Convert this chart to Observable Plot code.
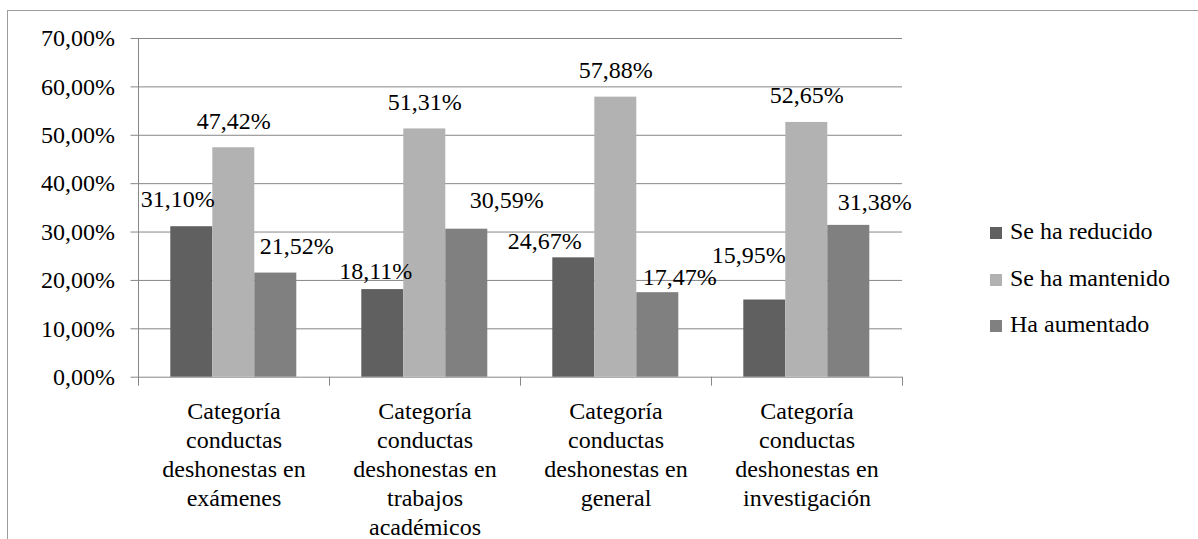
<!DOCTYPE html>
<html><head><meta charset="utf-8">
<script src="https://cdn.jsdelivr.net/npm/d3@7"></script>
<script src="https://cdn.jsdelivr.net/npm/@observablehq/plot@0.6"></script>
<style>
body{margin:0;background:#fff;overflow:hidden;width:1198px;height:539px;position:relative;font-family:"Liberation Serif","Times New Roman",Tinos,"DejaVu Serif","Noto Serif",serif;}
#chart{position:absolute;left:0;top:0;}
#frame{position:absolute;left:7px;top:10px;width:1400px;height:800px;border:1.5px solid #9c9c9c;pointer-events:none;}
#legend{position:absolute;left:990px;top:208px;font-size:24px;color:#000;}
.row{height:46.5px;line-height:46.5px;white-space:nowrap;}
.sw{display:inline-block;width:12px;height:12px;margin-right:8px;}
</style></head><body>
<div id="chart"></div><div id="legend"></div><div id="frame"></div>
<script>
const categories = [
  "Categoría conductas deshonestas en exámenes",
  "Categoría conductas deshonestas en trabajos académicos",
  "Categoría conductas deshonestas en general",
  "Categoría conductas deshonestas en investigación"
];
const tickLabels = [
  "Categoría\nconductas\ndeshonestas en\nexámenes",
  "Categoría\nconductas\ndeshonestas en\ntrabajos\nacadémicos",
  "Categoría\nconductas\ndeshonestas en\ngeneral",
  "Categoría\nconductas\ndeshonestas en\ninvestigación"
];
const series = ["Se ha reducido", "Se ha mantenido", "Ha aumentado"];
const reducido  = [31.10, 18.11, 24.67, 15.95];
const mantenido = [47.42, 51.31, 57.88, 52.65];
const aumentado = [21.52, 30.59, 17.47, 31.38];
const yTicks = [0, 10, 20, 30, 40, 50, 60, 70];

const fontStack = '"Liberation Serif","Times New Roman",Tinos,"DejaVu Serif","Noto Serif",serif';
const colors = ["#606060", "#b2b2b2", "#808080"];
// label nudges (px) relative to each bar's top centre, as placed in the original
const labelDx  = [[-14, -7, -29, -16], [0, 0, 0, 0], [21, 40, 22, 26]];
const labelGap = [[20, 11, 9, 37], [19, 19, 19, 19], [19, 21, 8, 15]];
const gridColor = "#878787";

const values = [reducido, mantenido, aumentado];
const rows = [];
series.forEach((s, si) => categories.forEach((c, ci) => rows.push({category: c, series: s, value: values[si][ci], si, ci})));

const fmt = d => d.toFixed(2).replace(".", ",") + "%";
const plotBottom = 376.7, plotTop = 38;

const chart = Plot.plot({
  width: 1198, height: 539,
  marginLeft: 137.7, marginRight: 296, marginTop: plotTop, marginBottom: 539 - plotBottom,
  style: {fontFamily: fontStack, fontSize: "24px", color: "#000", background: "transparent"},
  fx: {domain: categories, padding: 0, label: null, axis: null},
  x: {domain: series, paddingInner: 0, paddingOuter: 0.75, axis: null},
  y: {domain: [0, 70], axis: null},
  color: {domain: series, range: colors},
  marks: [
    Plot.ruleY(yTicks, {stroke: gridColor, strokeWidth: 1}),
    Plot.axisY({ticks: yTicks, tickSize: 7.5, tickPadding: 16, tickFormat: fmt, stroke: gridColor, fill: "#000", label: null, fontSize: 24}),
    Plot.frame({anchor: "left", facetAnchor: "left", stroke: gridColor, insetBottom: -7}),
    Plot.frame({anchor: "left", stroke: gridColor, insetTop: plotBottom - plotTop, insetBottom: -8}),
    Plot.frame({anchor: "right", facetAnchor: "right", stroke: gridColor, insetTop: plotBottom - plotTop, insetBottom: -8}),
    Plot.barY(rows, {fx: "category", x: "series", y: "value", fill: "series"}),
    ...rows.map(r => Plot.text([r], {
      fx: "category", x: "series", y: "value", text: d => fmt(d.value),
      dx: labelDx[r.si][r.ci], dy: -labelGap[r.si][r.ci], lineAnchor: "bottom", fill: "#000", fontSize: 24
    })),
    Plot.axisFx({anchor: "bottom", tickSize: 0, tickPadding: 21, lineHeight: 1.21, label: null, fontSize: 24, fill: "#000",
      tickFormat: d => tickLabels[categories.indexOf(d)]})
  ]
});
document.getElementById("chart").appendChild(chart);

const legend = document.getElementById("legend");
series.forEach((s, i) => {
  const row = document.createElement("div");
  row.className = "row";
  const sw = document.createElement("span");
  sw.className = "sw";
  sw.style.background = colors[i];
  row.appendChild(sw);
  row.appendChild(document.createTextNode(s));
  legend.appendChild(row);
});
</script>
</body></html>
